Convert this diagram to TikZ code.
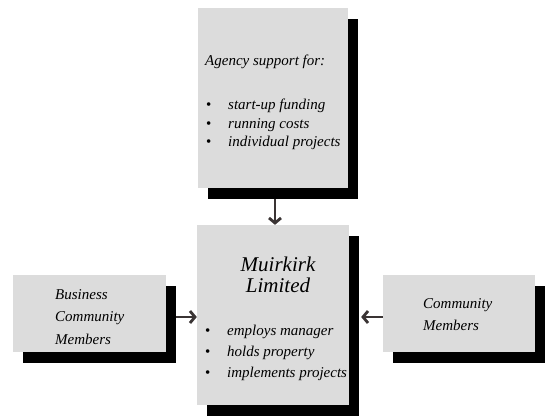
\documentclass[tikz,border=0pt]{standalone}
\usepackage{fontspec}
\setmainfont{Liberation Serif}
\usetikzlibrary{arrows.meta,shadows}
\definecolor{boxgrey}{HTML}{DCDCDC}
\definecolor{link}{HTML}{3A3434}
\pgfdeclarelayer{background}
\pgfsetlayers{background,main}
\newcommand{\dotitem}[1]{\makebox[22pt][l]{\upshape\textbullet}#1}
\tikzset{
  box/.style={fill=boxgrey, inner sep=0pt,
    drop shadow={shadow xshift=10pt, shadow yshift=-11pt, fill=black, opacity=1}},
  feed/.style={draw=link, line width=2.8pt, -{Straight Barb[length=5pt,width=12pt]}},
  lab/.style={font=\itshape\fontsize{15}{19}\selectfont, inner sep=0pt},
  title/.style={font=\itshape\fontsize{21}{22}\selectfont, inner sep=0pt},
}

\begin{document}
\begin{tikzpicture}[x=1pt, y=-1pt]
  \useasboundingbox (0,0) rectangle (549,419);

  % boxes
  \node[box, minimum width=150pt, minimum height=180pt] (agency) at (273,98) {};
  \node[box, minimum width=152pt, minimum height=180pt] (muirkirk) at (273,315) {};
  \node[box, minimum width=153pt, minimum height=77pt] (business) at (89.5,313.5) {};
  \node[box, minimum width=152pt, minimum height=77pt] (community) at (459,313.5) {};

  % agency text
  \node[lab, anchor=base west] (agencyhead) at (205,66) {Agency support for:};
  \foreach \t [count=\i] in {start-up funding,running costs,individual projects}
    \node[lab, anchor=base west] (agencyitem\i) at (206,{91.5+18.5*\i}) {\dotitem{\t}};

  % muirkirk text
  \node[title, anchor=base] (name1) at (278,272) {Muirkirk};
  \node[title, anchor=base] (name2) at (278,293) {Limited};
  \foreach \t [count=\i] in {employs manager,holds property,implements projects}
    \node[lab, anchor=base west] (mitem\i) at (205,{315+21*\i}) {\dotitem{\t}};

  % side texts
  \foreach \t [count=\i] in {Business,Community,Members}
    \node[lab, anchor=base west] (biz\i) at (55,{277+22.5*\i}) {\t};
  \foreach \t [count=\i] in {Community,Members}
    \node[lab, anchor=base west] (com\i) at (423,{287+22*\i}) {\t};

  % arrows
  \begin{pgfonlayer}{background}
    \draw[feed] ([xshift=2pt]agency.south) -- ([xshift=2pt]muirkirk.north);
    \draw[feed] ([yshift=-3.5pt]business.east) -- ([yshift=-3.5pt]business.east -| muirkirk.west);
  \end{pgfonlayer}
  \draw[feed, shorten >=12pt] ([yshift=-3.5pt]community.west) -- ([yshift=-3.5pt]community.west -| muirkirk.east);
\end{tikzpicture}
\end{document}
